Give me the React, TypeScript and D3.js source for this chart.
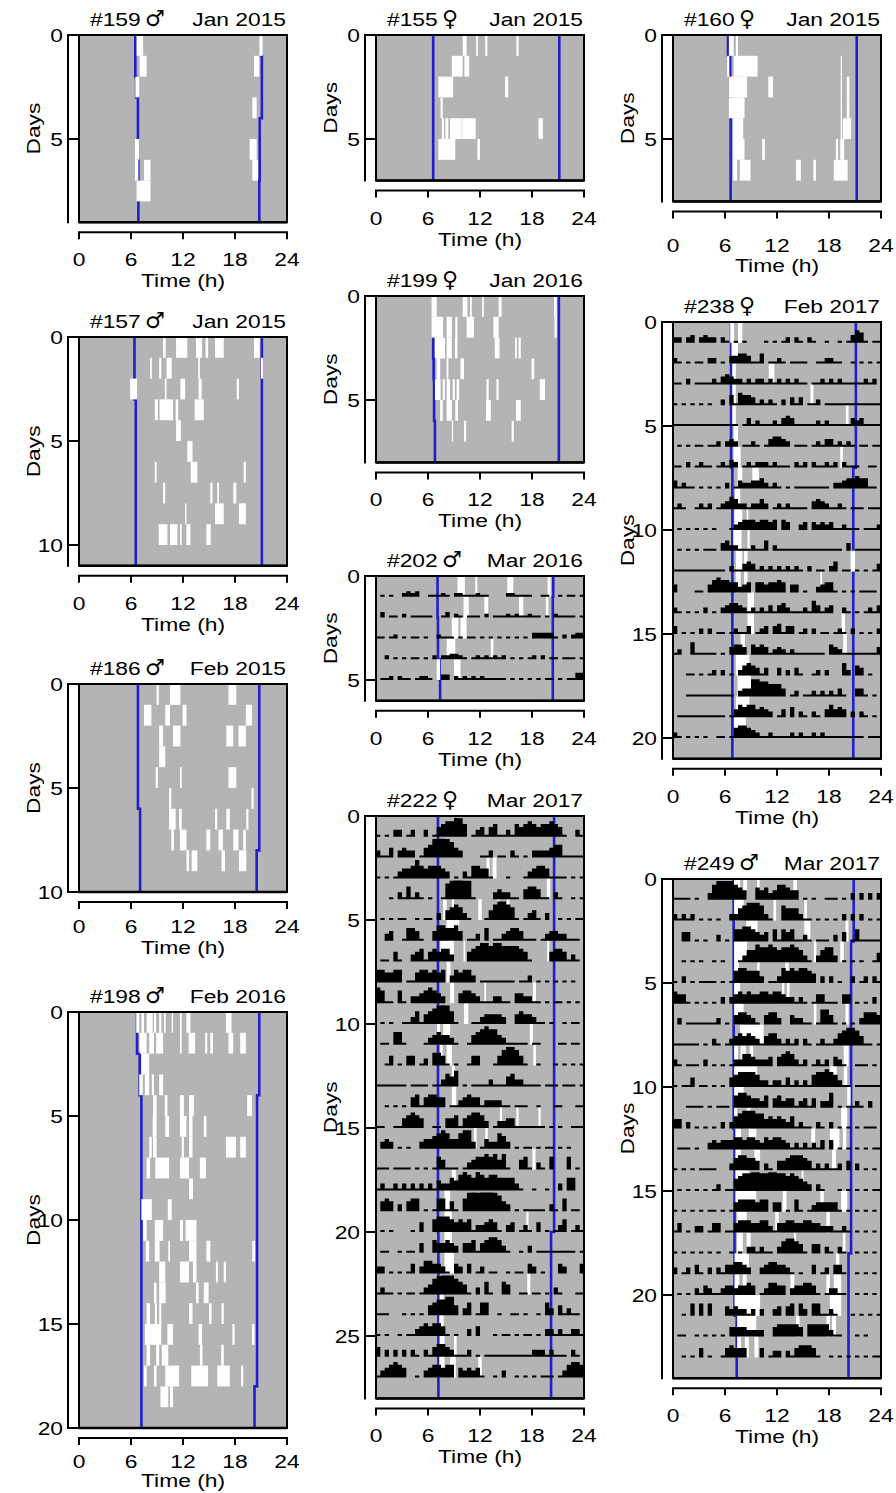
import React from 'react';
import * as d3 from 'd3';

// ---------------- DATA ----------------
const HOUR_TICKS = [0, 6, 12, 18, 24];
const DAY_TICKS = [0, 5, 10, 15, 20, 25];

// #159 male, Jan 2015 (9 days)
const sunrise159 = [6.5, 6.5, 6.6, 6.8, 6.8, 6.8, 6.85, 6.85, 6.85];
const sunset159 = [21.0, 21.1, 21.1, 21.1, 20.85, 20.85, 20.85, 20.8, 20.8];
const white159 = [
  [0, 6.65, 7.4], [0, 20.8, 21.2],
  [1, 7.0, 7.8], [1, 20.2, 20.8],
  [2, 6.5, 6.95],
  [3, 20.0, 20.5],
  [5, 6.45, 6.95], [5, 19.7, 20.5],
  [6, 6.45, 6.85], [6, 7.5, 8.25], [6, 20.0, 20.65],
  [7, 6.65, 8.25],
];

// #157 male, Jan 2015 (11 days)
const sunrise157 = [6.4, 6.4, 6.4, 6.55, 6.55, 6.55, 6.55, 6.55, 6.55, 6.55, 6.55];
const sunset157 = [21.1, 21.1, 21.1, 21.1, 21.1, 21.1, 21.1, 21.1, 21.1, 21.1, 21.1];
const white157 = [
  [0, 9.7, 10.0], [0, 11.2, 12.5], [0, 13.5, 14.2], [0, 14.6, 14.9], [0, 15.7, 16.7], [0, 20.2, 20.85],
  [1, 8.2, 8.4], [1, 9.25, 9.5], [1, 10.1, 10.7], [1, 13.75, 13.95], [1, 21.0, 21.25],
  [2, 5.9, 6.7], [2, 9.9, 10.1], [2, 11.7, 12.25], [2, 13.8, 14.15], [2, 18.2, 18.45],
  [3, 8.75, 9.1], [3, 9.3, 10.85], [3, 11.15, 11.45], [3, 13.35, 14.4],
  [4, 11.2, 11.75],
  [5, 12.5, 13.1],
  [6, 8.75, 8.95], [6, 12.9, 13.65], [6, 19.0, 19.25],
  [7, 9.7, 9.95], [7, 15.15, 15.4], [7, 15.95, 16.15], [7, 17.8, 18.15],
  [8, 12.25, 12.4], [8, 15.7, 16.7], [8, 18.45, 19.25],
  [9, 9.2, 10.2], [9, 10.5, 11.35], [9, 11.65, 11.85], [9, 12.4, 12.85], [9, 14.7, 15.2],
];

// #186 male, Feb 2015 (10 days)
const sunrise186 = [6.8, 6.8, 6.8, 6.8, 6.8, 6.8, 7.05, 7.05, 7.05, 7.05];
const sunset186 = [20.8, 20.8, 20.8, 20.8, 20.8, 20.8, 20.8, 20.8, 20.5, 20.5];
const white186 = [
  [0, 8.95, 9.2], [0, 10.5, 11.7], [0, 17.25, 18.15],
  [1, 7.5, 8.35], [1, 9.95, 10.5], [1, 11.95, 12.4], [1, 19.25, 19.95],
  [2, 9.25, 9.7], [2, 10.85, 11.7], [2, 17.0, 17.8], [2, 18.4, 19.25],
  [3, 9.25, 9.95],
  [4, 8.85, 9.1], [4, 11.65, 11.85], [4, 17.25, 18.15],
  [5, 10.4, 10.65], [5, 19.9, 20.15],
  [6, 10.4, 11.15], [6, 11.55, 11.85], [6, 15.7, 15.95], [6, 17.0, 17.4], [6, 19.3, 19.55],
  [7, 10.65, 10.95], [7, 11.65, 12.4], [7, 14.7, 15.15], [7, 16.1, 16.6], [7, 17.8, 18.4], [7, 18.95, 19.25],
  [8, 12.4, 12.7], [8, 13.0, 13.65], [8, 16.45, 16.85], [8, 18.45, 19.3],
];

// #198 male, Feb 2016 (20 days)
const sunrise198 = [6.7, 6.7, 7.0, 7.0, 7.2, 7.2, 7.2, 7.2, 7.2, 7.2, 7.2, 7.2, 7.2, 7.2, 7.2, 7.2, 7.2, 7.2, 7.2, 7.2];
const sunset198 = [20.8, 20.8, 20.8, 20.8, 20.55, 20.55, 20.55, 20.55, 20.55, 20.55, 20.55, 20.55, 20.55, 20.55, 20.55, 20.55, 20.55, 20.55, 20.25, 20.25];
const white198 = [
  [0, 6.6, 6.95], [0, 7.2, 7.5], [0, 7.8, 8.5], [0, 8.65, 8.9], [0, 9.25, 9.5], [0, 9.8, 10.0], [0, 10.7, 10.85], [0, 11.65, 11.85], [0, 12.4, 12.85], [0, 16.95, 17.6],
  [1, 7.0, 7.8], [1, 8.1, 8.65], [1, 8.9, 9.7], [1, 11.65, 11.85], [1, 12.65, 13.4], [1, 14.55, 14.8], [1, 15.15, 15.45], [1, 17.25, 17.8], [1, 18.6, 19.25],
  [2, 7.2, 8.1],
  [3, 6.95, 7.35], [3, 7.6, 8.1], [3, 8.4, 8.65], [3, 9.25, 9.7],
  [4, 8.55, 8.95], [4, 9.9, 10.2], [4, 11.65, 12.1], [4, 12.7, 13.25], [4, 19.4, 19.95],
  [5, 8.5, 8.95], [5, 9.95, 10.4], [5, 11.65, 12.4], [5, 12.7, 13.1], [5, 14.4, 14.7],
  [6, 8.1, 8.4], [6, 8.55, 8.95], [6, 11.85, 12.1], [6, 12.7, 13.1], [6, 16.95, 18.1], [6, 18.6, 19.25],
  [7, 7.8, 8.2], [7, 8.8, 10.4], [7, 11.65, 12.7], [7, 13.95, 14.65],
  [8, 12.7, 13.15],
  [9, 7.2, 8.4], [9, 10.25, 10.7],
  [10, 7.4, 7.8], [10, 8.75, 9.7], [10, 11.65, 12.0], [10, 12.3, 13.55],
  [11, 7.7, 8.1], [11, 8.75, 9.3], [11, 10.3, 10.5], [11, 12.7, 13.55], [11, 14.7, 15.15], [11, 20.0, 20.3],
  [12, 9.25, 9.95], [12, 11.65, 12.7], [12, 13.15, 13.55], [12, 15.8, 16.05], [12, 16.7, 16.95],
  [13, 8.65, 8.95], [13, 9.25, 10.0], [13, 13.5, 13.8], [13, 14.4, 14.95],
  [14, 7.8, 8.2], [14, 8.75, 9.0], [14, 9.25, 9.5], [14, 12.7, 13.1], [14, 15.0, 15.3], [14, 16.45, 16.7],
  [15, 7.6, 9.5], [15, 10.2, 10.85], [15, 13.8, 14.2], [15, 17.7, 17.95], [15, 19.95, 20.25],
  [16, 7.8, 8.2], [16, 8.9, 9.25], [16, 9.55, 10.3], [16, 13.95, 14.25], [16, 16.4, 16.7],
  [17, 7.5, 7.8], [17, 8.65, 8.95], [17, 9.95, 11.55], [17, 12.95, 14.9], [17, 15.95, 17.4], [17, 18.7, 18.95],
  [18, 9.4, 10.3], [18, 10.5, 10.85],
];

// #155 female, Jan 2015 (7 days)
const sunrise155 = [6.6, 6.6, 6.6, 6.6, 6.6, 6.6, 6.6];
const sunset155 = [21.15, 21.15, 21.15, 21.15, 21.15, 21.15, 21.15];
const white155 = [
  [0, 10.0, 10.45], [0, 11.55, 11.75], [0, 12.6, 12.85], [0, 16.2, 16.45],
  [1, 8.75, 10.0], [1, 10.2, 10.75],
  [2, 7.2, 8.9], [2, 14.9, 15.25],
  [3, 7.45, 7.7],
  [4, 7.6, 7.85], [4, 8.0, 8.35], [4, 8.55, 9.9], [4, 9.95, 11.5], [4, 18.75, 19.25],
  [5, 7.2, 9.15], [5, 11.7, 12.0],
];

// #199 female, Jan 2016 (8 days)
const sunrise199 = [6.6, 6.6, 6.6, 6.65, 6.7, 6.7, 6.8, 6.8];
const sunset199 = [21.1, 21.1, 21.1, 21.1, 21.1, 21.1, 21.1, 21.1];
const white199 = [
  [0, 6.4, 7.0], [0, 10.0, 10.55], [0, 10.85, 11.05], [0, 12.25, 12.45], [0, 14.15, 14.5], [0, 20.55, 20.85],
  [1, 6.4, 7.75], [1, 8.15, 8.75], [1, 9.15, 9.4], [1, 10.45, 11.3], [1, 13.55, 14.15], [1, 20.6, 20.85],
  [2, 6.8, 7.95], [2, 8.15, 8.75], [2, 9.1, 9.4], [2, 13.7, 14.25], [2, 16.05, 16.25], [2, 16.45, 16.7],
  [3, 7.0, 7.4], [3, 8.15, 8.35], [3, 9.75, 10.15], [3, 17.95, 18.25],
  [4, 6.8, 7.45], [4, 7.7, 7.95], [4, 8.15, 8.55], [4, 8.85, 9.1], [4, 9.3, 9.6], [4, 12.75, 13.0], [4, 13.9, 14.15], [4, 18.9, 19.5],
  [5, 7.4, 7.7], [5, 8.15, 8.75], [5, 9.15, 9.45], [5, 12.7, 13.25], [5, 16.15, 16.7],
  [6, 8.75, 8.9], [6, 10.15, 10.4], [6, 15.65, 15.9],
];

// #160 female, Jan 2015 (8 days)
const sunrise160 = [6.35, 6.6, 6.6, 6.65, 6.65, 6.65, 6.65, 6.65];
const sunset160 = [21.2, 21.2, 21.2, 21.2, 21.2, 21.2, 21.2, 21.2];
const white160 = [
  [0, 6.45, 7.0], [0, 7.25, 7.5],
  [1, 6.25, 6.5], [1, 7.0, 9.75], [1, 19.35, 19.5],
  [2, 6.45, 8.55], [2, 11.0, 11.55], [2, 19.35, 19.5], [2, 20.05, 20.35],
  [3, 6.45, 8.25], [3, 19.35, 19.5], [3, 20.05, 20.35],
  [4, 6.95, 8.1], [4, 19.35, 19.5], [4, 19.6, 20.55],
  [5, 6.95, 8.25], [5, 10.3, 10.6], [5, 18.8, 19.05], [5, 19.3, 19.75],
  [6, 6.95, 7.4], [6, 7.7, 8.95], [6, 14.2, 14.75], [6, 16.2, 16.5], [6, 18.55, 20.15],
];

// #202 male, Mar 2016 (6 days, activity)
const sunrise202 = [7.1, 7.1, 7.15, 7.15, 7.35, 7.4];
const sunset202 = [20.45, 20.4, 20.4, 20.4, 20.4, 20.4];
const white202 = [
  [0, 9.4, 10.25], [0, 11.45, 11.7], [0, 15.15, 15.85], [0, 19.8, 20.15],
  [1, 10.1, 10.7], [1, 12.5, 12.95], [1, 16.5, 17.0], [1, 19.6, 19.9],
  [2, 8.75, 9.5], [2, 9.75, 10.45],
  [3, 8.15, 9.15], [3, 13.25, 13.55],
  [4, 7.0, 7.4], [4, 9.0, 9.75],
];
const act202 = [
  '010100232300111210221112110000221111001100101101',
  '030110201111100130210111020111212112110102111101',
  '110120101101002111010110101010101010333331020233',
  '002010101101020223321012121212010101202011011101',
  '011202110122100330212121211111010101010110101144',
];

// #222 female, Mar 2017 (28 days, activity)
const sunrise222 = [7.15, 7.15, 7.15, 7.15, 7.15, 7.15, 7.15, 7.15, 7.15, 7.15, 7.15, 7.15, 7.15, 7.15, 7.15, 7.15, 7.15, 7.15, 7.15, 7.15, 7.2, 7.2, 7.2, 7.2, 7.2, 7.2, 7.2, 7.2];
const sunset222 = [20.55, 20.55, 20.55, 20.55, 20.55, 20.55, 20.55, 20.55, 20.55, 20.55, 20.55, 20.55, 20.55, 20.55, 20.55, 20.55, 20.55, 20.55, 20.55, 20.55, 20.2, 20.2, 20.2, 20.2, 20.2, 20.2, 20.2, 20.2];
const white222 = [
  [2, 12.75, 13.1], [2, 13.45, 13.9],
  [3, 19.7, 20.1],
  [4, 7.75, 8.15], [4, 8.75, 9.0], [4, 11.8, 12.2], [4, 14.0, 14.2], [4, 15.1, 15.4],
  [5, 8.15, 9.6],
  [6, 7.4, 9.0], [6, 10.1, 10.3], [6, 19.75, 20.0],
  [7, 8.15, 8.6],
  [8, 8.55, 9.0], [8, 12.5, 12.7], [8, 18.1, 18.45],
  [9, 10.15, 10.65],
  [10, 7.0, 7.4], [10, 7.75, 8.55], [10, 17.75, 18.1],
  [11, 7.4, 7.7], [11, 8.15, 8.75], [11, 18.15, 18.45],
  [12, 8.75, 9.1],
  [13, 8.75, 9.25],
  [14, 14.3, 14.55], [14, 16.2, 16.45], [14, 18.75, 19.0],
  [15, 11.3, 11.6], [15, 12.6, 12.9],
  [16, 18.05, 18.4],
  [17, 8.75, 9.2],
  [18, 7.9, 8.55],
  [19, 7.9, 8.75], [19, 17.35, 17.6],
  [20, 7.9, 8.75],
  [21, 7.9, 9.0],
  [22, 17.45, 17.8],
  [23, 7.35, 7.8],
  [24, 7.3, 7.8],
  [25, 7.35, 7.9], [25, 9.0, 9.3],
  [26, 7.3, 7.9], [26, 8.55, 9.2], [26, 11.8, 12.2],
];
const act222 = [
  '101022012002013455764012313411214345434454310021',
  '211302322013467765320000112011021010222234411111',
  '101012334643444320102144331000100012344311110101',
  '000102141210100156776610000232211034431102100101',
  '010101100101102034542100013566541012310200101011',
  '002300144310035544530112040112344311101233221110',
  '011031002341343442000345665665555431000034431210',
  '443344011344343402434420111111110112010101010100',
  '541104102234543200034432111221103322110101101010',
  '010100112413456764100011233332003433211010010110',
  '011044100001234332100134565532111110110000110110',
  '001301033012044310100133000135665310010001010101',
  '111111101111011243501011112111342211110111011101',
  '001010103413443301123433122221101110010001100011',
  '110011345430011033413455420122331111111010100111',
  '023201010023345653356620132254201011010110101000',
  '111011110101014311101234454535100341021040004010',
  '121121212121213224356546545544442100100100204400',
  '034302034401014413104676887653201011111021040110',
  '010100001030045554343412234310230121030101240121',
  '011001011030043343203341345542100102011111111101',
  '220101013024433210320301201100101103201000320003',
  '121101011012356789543102041004300110110102100011',
  '111000101010345566302401440010011010010420312110',
  '101001011234344310100203000101101011010221211221',
  '302020202102134432111201011111111111222121110210',
  '123454300102344344032323100102001010101110124554',
];

// #238 female, Feb 2017 (21 days, activity)
const sunrise238 = [6.7, 6.7, 6.7, 6.7, 6.7, 6.7, 6.7, 6.85, 6.85, 6.85, 6.85, 6.85, 6.85, 6.85, 6.85, 6.85, 6.85, 6.85, 6.85, 6.85, 6.85];
const sunset238 = [21.1, 21.1, 21.1, 21.1, 21.1, 21.1, 21.1, 20.8, 20.8, 20.8, 20.8, 20.8, 20.8, 20.8, 20.8, 20.8, 20.8, 20.8, 20.8, 20.8, 20.8];
const white238 = [
  [0, 6.6, 7.05], [0, 7.5, 8.0],
  [1, 6.75, 7.5],
  [2, 6.85, 7.25], [2, 11.05, 11.7],
  [3, 6.85, 7.25], [3, 15.85, 16.2],
  [4, 6.85, 7.25], [4, 19.95, 20.25],
  [5, 7.0, 7.5],
  [6, 7.0, 7.8], [6, 19.3, 19.6],
  [7, 7.45, 8.0], [7, 9.15, 9.9],
  [8, 7.15, 7.75],
  [9, 7.1, 8.0], [9, 8.5, 8.7],
  [10, 6.95, 7.9], [10, 8.6, 8.85],
  [11, 7.25, 8.0], [11, 8.2, 8.6], [11, 20.5, 21.0],
  [12, 7.25, 7.8], [12, 8.2, 8.6], [12, 17.0, 17.2],
  [13, 8.6, 9.35],
  [14, 8.6, 9.35], [14, 19.45, 19.85],
  [15, 7.8, 8.3], [15, 19.65, 20.05],
  [16, 7.25, 8.8],
  [17, 7.45, 9.0],
  [18, 7.25, 8.8],
  [19, 7.05, 8.4],
];
const act238 = [
  '220230232202101010000101012021021001001013541011',
  '210101102201033443114011210111100112211001010101',
  '110201111213432212122121212121101121212111112120',
  '101010101002041544312121020313011201111111111111',
  '111111111111111013121112134311111212111113231111',
  '010101101120232011210134432011101213312121011011',
  '110201211012132012122212111021202112120211100110',
  '312110101010201322334212101011111111022344544110',
  '121001212012354221224201212111103432112101110111',
  '010101010100012344434434043002303232311211101112',
  '010101011103422111211402111111111111111030111111',
  '111111111111021134312121212121020110240110101013',
  '300001103565544234044344540330100234410101011110',
  '210101020102344321212131342111215312300210101213',
  '301010202011012113012303413301202011012102010102',
  '120051111101034430434312321211111110432111111113',
  '000110101202010245431300302031001202000520430100',
  '000111111111110233776655530120112121213100331010',
  '011111111111013545534320130402102103534302021010',
  '210101010011014554321121111212112121111111110111',
];

// #249 male, Mar 2017 (24 days, activity)
const sunrise249 = [7.0, 7.0, 7.0, 7.0, 7.0, 7.0, 7.0, 7.0, 7.0, 7.0, 7.0, 7.0, 7.1, 7.1, 7.1, 7.1, 7.1, 7.1, 7.1, 7.1, 7.1, 7.35, 7.35, 7.35];
const sunset249 = [20.85, 20.85, 20.85, 20.55, 20.55, 20.55, 20.55, 20.55, 20.55, 20.55, 20.55, 20.55, 20.55, 20.55, 20.55, 20.55, 20.55, 20.55, 20.25, 20.25, 20.25, 20.25, 20.25, 20.25];
const white249 = [
  [0, 7.05, 7.75], [0, 8.1, 8.55], [0, 9.7, 10.0], [0, 13.9, 14.3],
  [1, 7.05, 8.15], [1, 11.6, 11.9], [1, 15.15, 15.45],
  [2, 8.45, 9.75], [2, 15.15, 15.85], [2, 19.9, 20.25],
  [3, 7.05, 8.55], [3, 16.25, 16.55], [3, 19.3, 19.7],
  [4, 7.05, 7.6], [4, 9.7, 10.0], [4, 12.95, 13.35],
  [5, 7.05, 7.75], [5, 12.6, 12.85], [5, 13.15, 13.45],
  [6, 7.05, 8.15], [6, 16.25, 16.55], [6, 19.9, 20.25],
  [7, 7.75, 10.45],
  [8, 7.05, 7.5], [8, 7.8, 8.4], [8, 8.85, 9.25], [8, 19.7, 20.25],
  [9, 7.05, 9.7], [9, 18.15, 18.9], [9, 19.7, 20.1],
  [10, 7.05, 8.15], [10, 20.1, 20.5],
  [11, 7.05, 7.4], [11, 8.5, 8.95], [11, 19.4, 20.1],
  [12, 7.2, 7.85], [12, 8.75, 9.6], [12, 15.95, 16.4], [12, 18.1, 19.2], [12, 19.6, 20.0],
  [13, 7.2, 7.85], [13, 9.4, 10.05], [13, 18.35, 18.8],
  [14, 7.2, 8.75], [14, 14.85, 15.05],
  [15, 7.2, 9.6], [15, 12.65, 13.1], [15, 17.0, 17.4], [15, 19.4, 20.1],
  [16, 7.4, 8.5], [16, 11.8, 12.2], [16, 17.7, 18.1],
  [17, 7.4, 8.05], [17, 8.5, 8.95], [17, 13.95, 14.2], [17, 19.6, 19.9],
  [18, 7.1, 8.75], [18, 18.8, 19.2],
  [19, 7.1, 7.65], [19, 8.05, 8.5], [19, 13.55, 14.0], [19, 17.7, 18.1], [19, 18.55, 19.4],
  [20, 7.1, 10.05], [20, 18.1, 19.4],
  [21, 7.4, 9.6], [21, 14.2, 14.6], [21, 17.7, 18.1], [21, 18.35, 18.8],
  [22, 7.4, 7.85], [22, 8.3, 8.75], [22, 9.4, 9.85],
];
const act249 = [
  '111101002578875430043423554330101001110102020202',
  '212120101010022456665210054442110101010202020101',
  '003301010020104455432304143411210111020301411111',
  '001010100101000124465565455654210245520101010013',
  '102010111101014554442011254545543020201002012021',
  '433101010102023434334434432212101331110330101020',
  '020111111120103443210344200322110155310101024443',
  '111111010210123434321344212120210121124566531101',
  '210111020101012244322230345421201212032100111010',
  '101130110101034555542212213121214556542110111111',
  '000111101011104554332403423312313022501011210200',
  '330201010102024566655343432412110210201010101110',
  '011101002323334434432434432121212130301010101011',
  '101010111100024554430210334555431212112030201010',
  '010101010120114566776677665654320210001010101011',
  '101010101101013444434403301041012333331010101010',
  '130102201330113444334421334433443322211210101010',
  '101010101010010102212110245543103302102100101010',
  '201203102021334432002344332101003012033100101010',
  '010102132112332334301244330233443101221100101010',
  '001040404000323221202002303404204411210001010101',
  '011001010101033332222003444443044444211000101000',
  '001010301001343330003012202134443100101010101011',
];

// ---------------- LAYOUT ----------------
const W = 208;
const ROW = 20.8;
const GRAY = '#b4b4b4';
const BLUE = '#1f1fcc';
const FONT = '"Liberation Sans", Arial, Helvetica, sans-serif';
const SX = 1.2;
const FS = 19;

type Panel = {
  id: string; sex: string; date: string; left: number; top: number; days: number;
  sunrise: number[]; sunset: number[]; white: number[][]; act?: string[]; gain?: number;
  lab?: number; tit?: number;
};

const COL = [79, 376, 673];
const panels: Panel[] = [
  { id: '#159', sex: '\u2642', date: 'Jan 2015', left: COL[0], top: 35, days: 9, sunrise: sunrise159, sunset: sunset159, white: white159 },
  { id: '#157', sex: '\u2642', date: 'Jan 2015', left: COL[0], top: 337, days: 11, sunrise: sunrise157, sunset: sunset157, white: white157 },
  { id: '#186', sex: '\u2642', date: 'Feb 2015', left: COL[0], top: 684, days: 10, sunrise: sunrise186, sunset: sunset186, white: white186, lab: 41, tit: 62 },
  { id: '#198', sex: '\u2642', date: 'Feb 2016', left: COL[0], top: 1012, days: 20, sunrise: sunrise198, sunset: sunset198, white: white198, lab: 40, tit: 59 },
  { id: '#155', sex: '\u2640', date: 'Jan 2015', left: COL[1], top: 35, days: 7, sunrise: sunrise155, sunset: sunset155, white: white155 },
  { id: '#199', sex: '\u2640', date: 'Jan 2016', left: COL[1], top: 296, days: 8, sunrise: sunrise199, sunset: sunset199, white: white199 },
  { id: '#202', sex: '\u2642', date: 'Mar 2016', left: COL[1], top: 576, days: 6, sunrise: sunrise202, sunset: sunset202, white: white202, act: act202, gain: 0.7 },
  { id: '#222', sex: '\u2640', date: 'Mar 2017', left: COL[1], top: 816, days: 28, sunrise: sunrise222, sunset: sunset222, white: white222, act: act222, gain: 1.25 },
  { id: '#160', sex: '\u2640', date: 'Jan 2015', left: COL[2], top: 35, days: 8, sunrise: sunrise160, sunset: sunset160, white: white160, lab: 51, tit: 71 },
  { id: '#238', sex: '\u2640', date: 'Feb 2017', left: COL[2], top: 322, days: 21, sunrise: sunrise238, sunset: sunset238, white: white238, act: act238, gain: 1.0 },
  { id: '#249', sex: '\u2642', date: 'Mar 2017', left: COL[2], top: 879, days: 24, sunrise: sunrise249, sunset: sunset249, white: white249, act: act249, gain: 1.2 },
];

const barH = (v: number, g: number) => {
  if (v <= 0) return 0;
  if (v === 1) return 2;
  return Math.min(ROW - 2, (1 + v * 2.3) * g);
};

function T(props: { x: number; y: number; anchor?: string; rot?: number; size?: number; sx?: number; family?: string; children: React.ReactNode }) {
  const { x, y, anchor = 'start', rot = 0, size = FS, sx = SX, family = FONT, children } = props;
  return (
    <text
      transform={`translate(${x},${y}) rotate(${rot}) scale(${sx},1)`}
      textAnchor={anchor as any}
      fontSize={size}
      fontFamily={family}
      fill="#000"
    >
      {children}
    </text>
  );
}

function PanelView({ p }: { p: Panel }) {
  const x = d3.scaleLinear().domain([0, 24]).range([p.left, p.left + W]);
  const y = d3.scaleLinear().domain([0, p.days]).range([p.top, p.top + p.days * ROW]);
  const bottom = y(p.days);
  const line = d3.line<[number, number]>().x((d) => x(d[0])).y((d) => y(d[1]));
  const steps = (arr: number[]) => arr.flatMap((t, d) => [[t, d], [t, d + 1]] as [number, number][]);
  const axisX = p.left - 11;
  const axisY = bottom + 10;
  const dayTicks = DAY_TICKS.filter((t) => t <= p.days);
  const lab = p.lab ?? 44;
  const tit = p.tit ?? 65;
  const g = p.gain ?? 1;

  const actPaths: string[] = [];
  if (p.act) {
    p.act.forEach((row, r) => {
      const n = row.length;
      const base = y(r + 1);
      const pts: [number, number][] = row.split('').map((c, i) => [(i * 24) / n, +c]);
      pts.push([24, 0]);
      const area = d3
        .area<[number, number]>()
        .x((d) => x(d[0]))
        .y0(base)
        .y1((d) => base - barH(d[1], g))
        .curve(d3.curveStepAfter);
      actPaths.push(area(pts) || '');
    });
  }

  return (
    <g>
      <rect x={x(0)} y={y(0)} width={W} height={bottom - y(0)} fill={GRAY} />
      <path d={line(steps(p.sunrise)) || ''} fill="none" stroke={BLUE} strokeWidth={2.6} />
      <path d={line(steps(p.sunset)) || ''} fill="none" stroke={BLUE} strokeWidth={2.6} />
      {p.white.map((w, i) => (
        <rect key={i} x={x(w[1])} y={y(w[0])} width={x(w[2]) - x(w[1])} height={ROW} fill="#fff" />
      ))}
      {actPaths.map((d, i) => (
        <path key={i} d={d} fill="#000" />
      ))}
      <rect x={x(0)} y={y(0)} width={W} height={bottom - y(0)} fill="none" stroke="#000" strokeWidth={2} />
      <line x1={x(0)} x2={x(24)} y1={bottom} y2={bottom} stroke="#000" strokeWidth={2.5} />

      {/* y axis */}
      <line x1={axisX} x2={axisX} y1={y(0) - 1} y2={bottom + 1} stroke="#000" strokeWidth={2} />
      {dayTicks.map((t) => (
        <g key={t}>
          <line x1={axisX} x2={p.left - 1} y1={y(t)} y2={y(t)} stroke="#000" strokeWidth={2} />
          <T x={axisX - 5} y={y(t) + 6.8} anchor="end">{t}</T>
        </g>
      ))}
      <T x={p.left - 39} y={(y(0) + bottom) / 2} anchor="middle" rot={-90}>Days</T>

      {/* x axis */}
      <line x1={x(0) - 1} x2={x(24) + 1} y1={axisY} y2={axisY} stroke="#000" strokeWidth={2} />
      {HOUR_TICKS.map((t) => (
        <g key={t}>
          <line x1={x(t)} x2={x(t)} y1={axisY} y2={axisY + 7} stroke="#000" strokeWidth={2} />
          <T x={x(t)} y={bottom + lab} anchor="middle">{t}</T>
        </g>
      ))}
      <T x={(x(0) + x(24)) / 2} y={bottom + tit} anchor="middle">Time (h)</T>

      {/* title */}
      <T x={p.left + 11} y={p.top - 9}>{p.id}</T>
      <T x={p.left + 66} y={p.top - 9} size={22} sx={1} family='"DejaVu Sans", sans-serif'>{p.sex}</T>
      <T x={x(24) - 1} y={p.top - 9} anchor="end">{p.date}</T>
    </g>
  );
}

export default function App() {
  return (
    <svg
      width={896}
      height={1493}
      viewBox="0 0 896 1493"
      style={{ position: 'absolute', left: 0, top: 0, background: '#fff', display: 'block' }}
    >
      <rect width={896} height={1493} fill="#fff" />
      {panels.map((p) => (
        <PanelView key={p.id} p={p} />
      ))}
    </svg>
  );
}
